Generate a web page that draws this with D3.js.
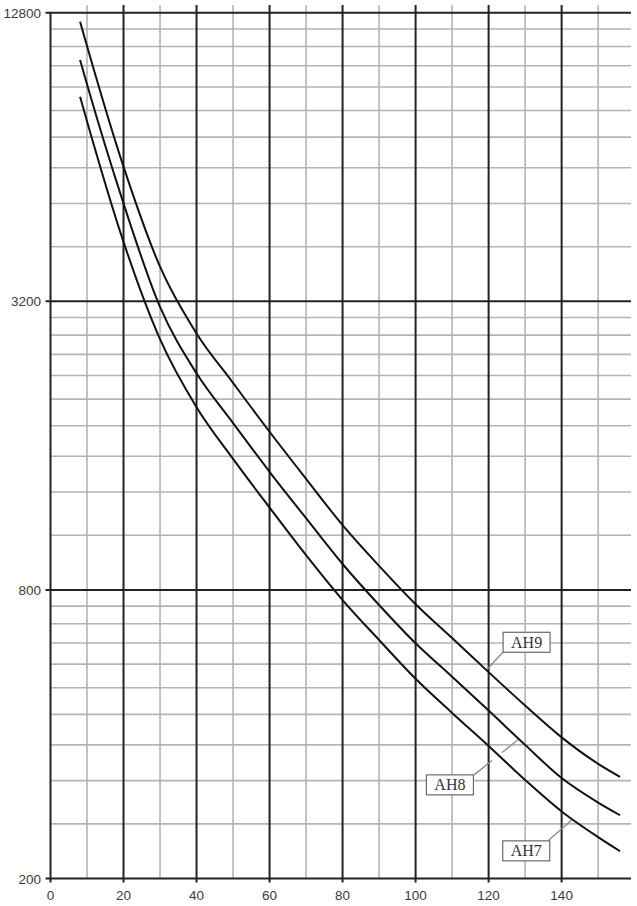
<!DOCTYPE html>
<html>
<head>
<meta charset="utf-8">
<script src="https://cdn.jsdelivr.net/npm/d3@7"></script>
<style>
  html, body { margin: 0; padding: 0; background: #fff; }
  svg { display: block; }
</style>
</head>
<body>
<svg id="chart" width="637" height="906"></svg>
<script>
// ---- data ----
const xValues = [8.1, 10, 20, 30, 40, 50, 60, 70, 80, 90, 100, 110, 120, 130, 140, 150, 156];
const ah9 = [12258, 10906, 6110, 3779, 2742, 2162, 1710, 1364, 1092, 898, 747, 635, 539, 459, 394, 347, 326];
const ah8 = [10197, 9074, 5121, 3115, 2264, 1783, 1411, 1129, 906, 744, 619, 527, 448, 380, 324, 288, 271];
const ah7 = [8549, 7602, 4257, 2668, 1924, 1501, 1188, 945, 762, 629, 522, 443, 378, 321, 276, 244, 228];
const seriesNames = ["AH9", "AH8", "AH7"];
const yTickLabels = [200, 800, 3200, 12800];
const xTickLabels = [0, 20, 40, 60, 80, 100, 120, 140];
const xMinorLines = [10, 30, 50, 70, 90, 110, 130, 150];
// label boxes (centre, in data units) and leader lines (start -> point on curve)
const labelBoxX = [130.4, 109.4, 130.3];
const labelBoxY = [622, 313.6, 228.4];
const leaderX1 = [123.9, 116.0, 136.3];
const leaderY1 = [593, 329, 239.7];
const leaderX2 = [119.5, 128.05, 142.75];
const leaderY2 = [545, 389.5, 265];

// ---- scales ----
const svg = d3.select("#chart");
const x = d3.scaleLinear().domain([0, 159]).range([50.5, 631]);
const y = d3.scaleLog().base(2).domain([200, 12800]).range([878.5, 12.7]);

// minor horizontal grid: each 4x span split in 10 linear steps
const yMinor = [];
for (let i = 0; i < yTickLabels.length - 1; i++) {
  const a = yTickLabels[i], b = yTickLabels[i + 1];
  for (let k = 1; k < 10; k++) yMinor.push(a + (b - a) * k / 10);
}

const grid = svg.append("g");
grid.selectAll("line.hmin").data(yMinor).join("line")
  .attr("x1", x(0)).attr("x2", x(159))
  .attr("y1", d => y(d)).attr("y2", d => y(d))
  .attr("stroke", "#b4b4b4").attr("stroke-width", 1.6);
grid.selectAll("line.vmin").data(xMinorLines).join("line")
  .attr("x1", d => x(d)).attr("x2", d => x(d))
  .attr("y1", 5).attr("y2", y(200))
  .attr("stroke", "#b4b4b4").attr("stroke-width", 1.6);
grid.selectAll("line.hmaj").data(yTickLabels).join("line")
  .attr("x1", x(0) - 5).attr("x2", x(159))
  .attr("y1", d => y(d)).attr("y2", d => y(d))
  .attr("stroke", "#222").attr("stroke-width", 2);
grid.selectAll("line.vmaj").data(xTickLabels).join("line")
  .attr("x1", d => x(d)).attr("x2", d => x(d))
  .attr("y1", d => d === 0 ? y(12800) - 1 : 5).attr("y2", y(200) + 4)
  .attr("stroke", "#222").attr("stroke-width", 2);

// axis labels
svg.append("g").selectAll("text").data(yTickLabels).join("text")
  .attr("x", 41).attr("y", d => y(d) + 5)
  .attr("text-anchor", "end")
  .attr("font-family", "Liberation Sans, Arial, sans-serif")
  .attr("font-size", 13.5).attr("fill", "#3a3a3a")
  .text(d => d);
svg.append("g").selectAll("text").data(xTickLabels).join("text")
  .attr("x", d => x(d)).attr("y", 900)
  .attr("text-anchor", "middle")
  .attr("font-family", "Liberation Sans, Arial, sans-serif")
  .attr("font-size", 13.5).attr("fill", "#3a3a3a")
  .text(d => d);

// curves
const line = d3.line()
  .x((d, i) => x(xValues[i]))
  .y(d => y(d))
  .curve(d3.curveMonotoneX);
const series = [ah9, ah8, ah7];

// leader lines
const leaders = svg.append("g");
series.forEach((s, i) => {
  const l = leaders.append("line")
    .attr("x1", x(leaderX1[i])).attr("y1", y(leaderY1[i]))
    .attr("x2", x(leaderX2[i])).attr("y2", y(leaderY2[i]))
    .attr("stroke", "#8a8a8a").attr("stroke-width", 1.3);
  if (i === 1) l.attr("stroke-dasharray", "23,13,100");
});

svg.append("g").selectAll("path").data(series).join("path")
  .attr("d", d => line(d))
  .attr("fill", "none").attr("stroke", "#111").attr("stroke-width", 2);

// label boxes
const lab = svg.append("g");
series.forEach((s, i) => {
  const cx = x(labelBoxX[i]), cy = y(labelBoxY[i]);
  lab.append("rect")
    .attr("x", cx - 23.5).attr("y", cy - 10).attr("width", 47).attr("height", 20)
    .attr("fill", "#fff").attr("stroke", "#6a6a6a").attr("stroke-width", 1.2);
  lab.append("text")
    .attr("x", cx).attr("y", cy + 5.5)
    .attr("text-anchor", "middle")
    .attr("font-family", "Liberation Serif, Times New Roman, serif")
    .attr("font-size", 16).attr("fill", "#333")
    .text(seriesNames[i]);
});
</script>
</body>
</html>
